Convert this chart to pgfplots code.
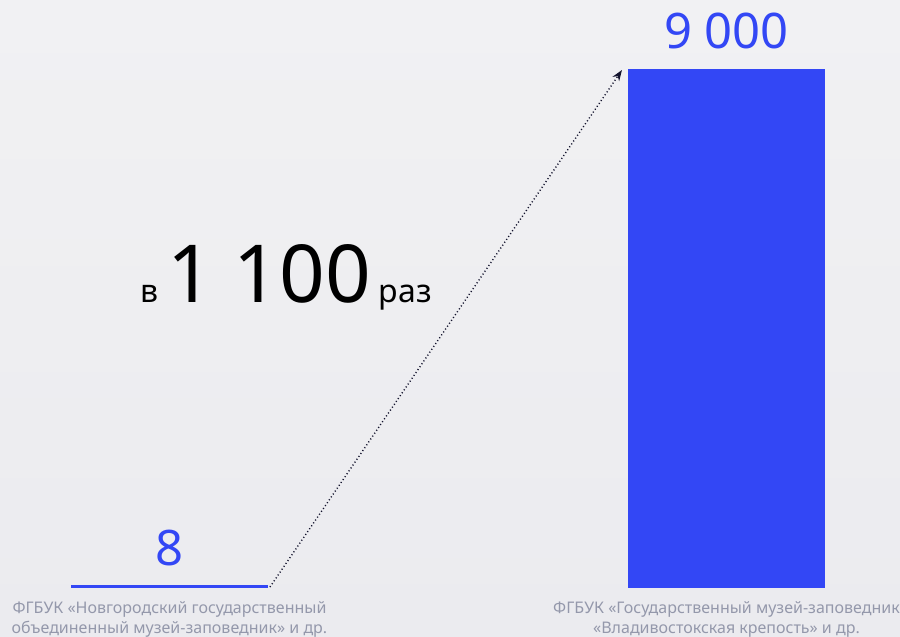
\documentclass[border=0pt]{standalone}
\usepackage{pgfplots}
\pgfplotsset{compat=1.18}
\usepackage{fontspec}
\setmainfont{Noto Sans}
\usetikzlibrary{arrows.meta}
\definecolor{barblue}{HTML}{3347F5}
\definecolor{labgray}{HTML}{9498AB}
\definecolor{arrowc}{HTML}{14142E}
\definecolor{bgtop}{HTML}{F1F1F3}
\definecolor{bgbot}{HTML}{EBEBEF}

\begin{document}
\begin{tikzpicture}
% background, also fixes the page size
\fill[top color=bgtop, bottom color=bgbot, draw=none] (0,0) rectangle (900pt,637pt);
\useasboundingbox (0,0) rectangle (900pt,637pt);
\begin{axis}[
    at={(0,0)}, anchor=south west,
    scale only axis,
    width=900pt, height=637pt,
    xmin=-0.3043, xmax=1.3115,
    ymin=-870.4, ymax=10218.6,
    axis line style={draw=none},
    major tick length=0pt,
    ybar, bar width=194pt,
    xtick={0,1}, ytick=\empty,
    xticklabels={{ФГБУК «Новгородский государственный\\объединенный музей-заповедник» и др.},
                 {ФГБУК «Государственный музей-заповедник\\«Владивостокская крепость» и др.}},
    xticklabel style={align=center, font=\fontsize{16}{20}\selectfont,
        text=labgray, anchor=north, yshift=39pt},
    nodes near coords,
    point meta=explicit symbolic,
    every node near coord/.append style={font=\fontsize{49}{49}\selectfont,
        text=barblue, anchor=base, yshift=21pt},
    clip=false,
]
\addplot[fill=barblue, draw=barblue, line width=2.6pt]
    coordinates {(0,8) [8] (1,9000) [9 000]};

\draw[arrowc, line width=1.4pt, dash pattern=on 1.1pt off 2.4pt, -{Stealth[length=11pt,width=8pt]}]
    (axis cs:0.1804,0) -- (axis cs:0.8124,9000);

\node[anchor=base, inner sep=0pt] at (axis cs:0.209,4961)
    {\fontsize{32}{32}\selectfont в\hspace{9pt}\fontsize{80}{80}\selectfont 1 100\hspace{8pt}\fontsize{32}{32}\selectfont раз};
\end{axis}
\end{tikzpicture}
\end{document}
